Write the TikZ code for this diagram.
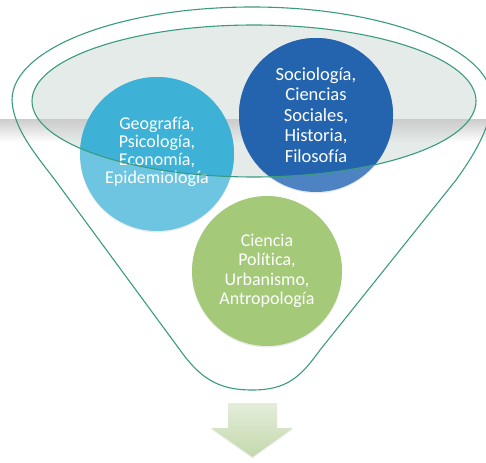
\documentclass[tikz,border=0pt]{standalone}
\usepackage{fontspec}
\setmainfont{Carlito}[Ligatures=NoCommon]
\usetikzlibrary{fadings,shadows}
\definecolor{rimgreen}{HTML}{3A9B82}
\definecolor{bowlgray}{HTML}{E4EBE8}
\definecolor{geoblue}{HTML}{6DC5E2}
\definecolor{geobluein}{HTML}{3DB1D6}
\definecolor{socblue}{HTML}{4D83C3}
\definecolor{socbluein}{HTML}{2464AE}
\definecolor{polgreen}{HTML}{A3C979}
\definecolor{arrowtop}{HTML}{E4EDDA}
\definecolor{arrowbot}{HTML}{C3D8AB}
\tikzfading[name=bandfade, top color=transparent!0, bottom color=transparent!100]
\begin{document}
\begin{tikzpicture}[x=1pt, y=-1pt,
  field/.style={circle, minimum size=154pt, inner sep=0pt, align=center, text=white,
    font=\fontsize{18}{19.5}\selectfont, drop shadow={opacity=0.15, shadow xshift=0pt, shadow yshift=-1.5pt}},
  inbowl/.style={path picture={\fill[#1] (bowl) ellipse [x radius=222, y radius=76];}},
  rim/.style={draw=rimgreen, line width=1.1pt}]
\useasboundingbox (0,0) rectangle (486,462);
\coordinate (bowl) at (254,101);
\fill[bowlgray] (bowl) ellipse [x radius=222, y radius=76];
\fill[black!20, path fading=bandfade] (0,119) rectangle (486,142);

\node[field, fill=geoblue, inbowl=geobluein, font=\fontsize{18}{18}\selectfont, text depth=7pt] (geo) at (157,154) {Geografía,\\Psicología,\\Economía,\\Epidemiología};
\node[field, fill=socblue, inbowl=socbluein, font=\fontsize{18.5}{20.5}\selectfont] (soc) at (316,115) {Sociología,\\Ciencias\\Sociales,\\Historia,\\Filosofía};
\node[field, fill=polgreen, minimum size=150pt] (pol) at (267,271) {Ciencia\\Política,\\Urbanismo,\\Antropología};

\draw[rim] (bowl) ellipse [x radius=222, y radius=76];
\draw[rim] (12,100) arc [start angle=180, end angle=360, x radius=240, y radius=93]
  .. controls (491,128) and (472,158) .. (456,180) -- (320,350)
  .. controls (300,378) and (286,390) .. (252,390)
  .. controls (218,390) and (200,378) .. (180,350) -- (55,180)
  .. controls (36,155) and (13,128) .. cycle;

\shade[top color=arrowtop, bottom color=arrowbot, drop shadow={opacity=0.12, shadow xshift=0pt, shadow yshift=-1.5pt}]
  (228,403) -- (277,403) -- (277,428) -- (293,428) -- (252.5,457) -- (211,428) -- (228,428) -- cycle;
\end{tikzpicture}
\end{document}
